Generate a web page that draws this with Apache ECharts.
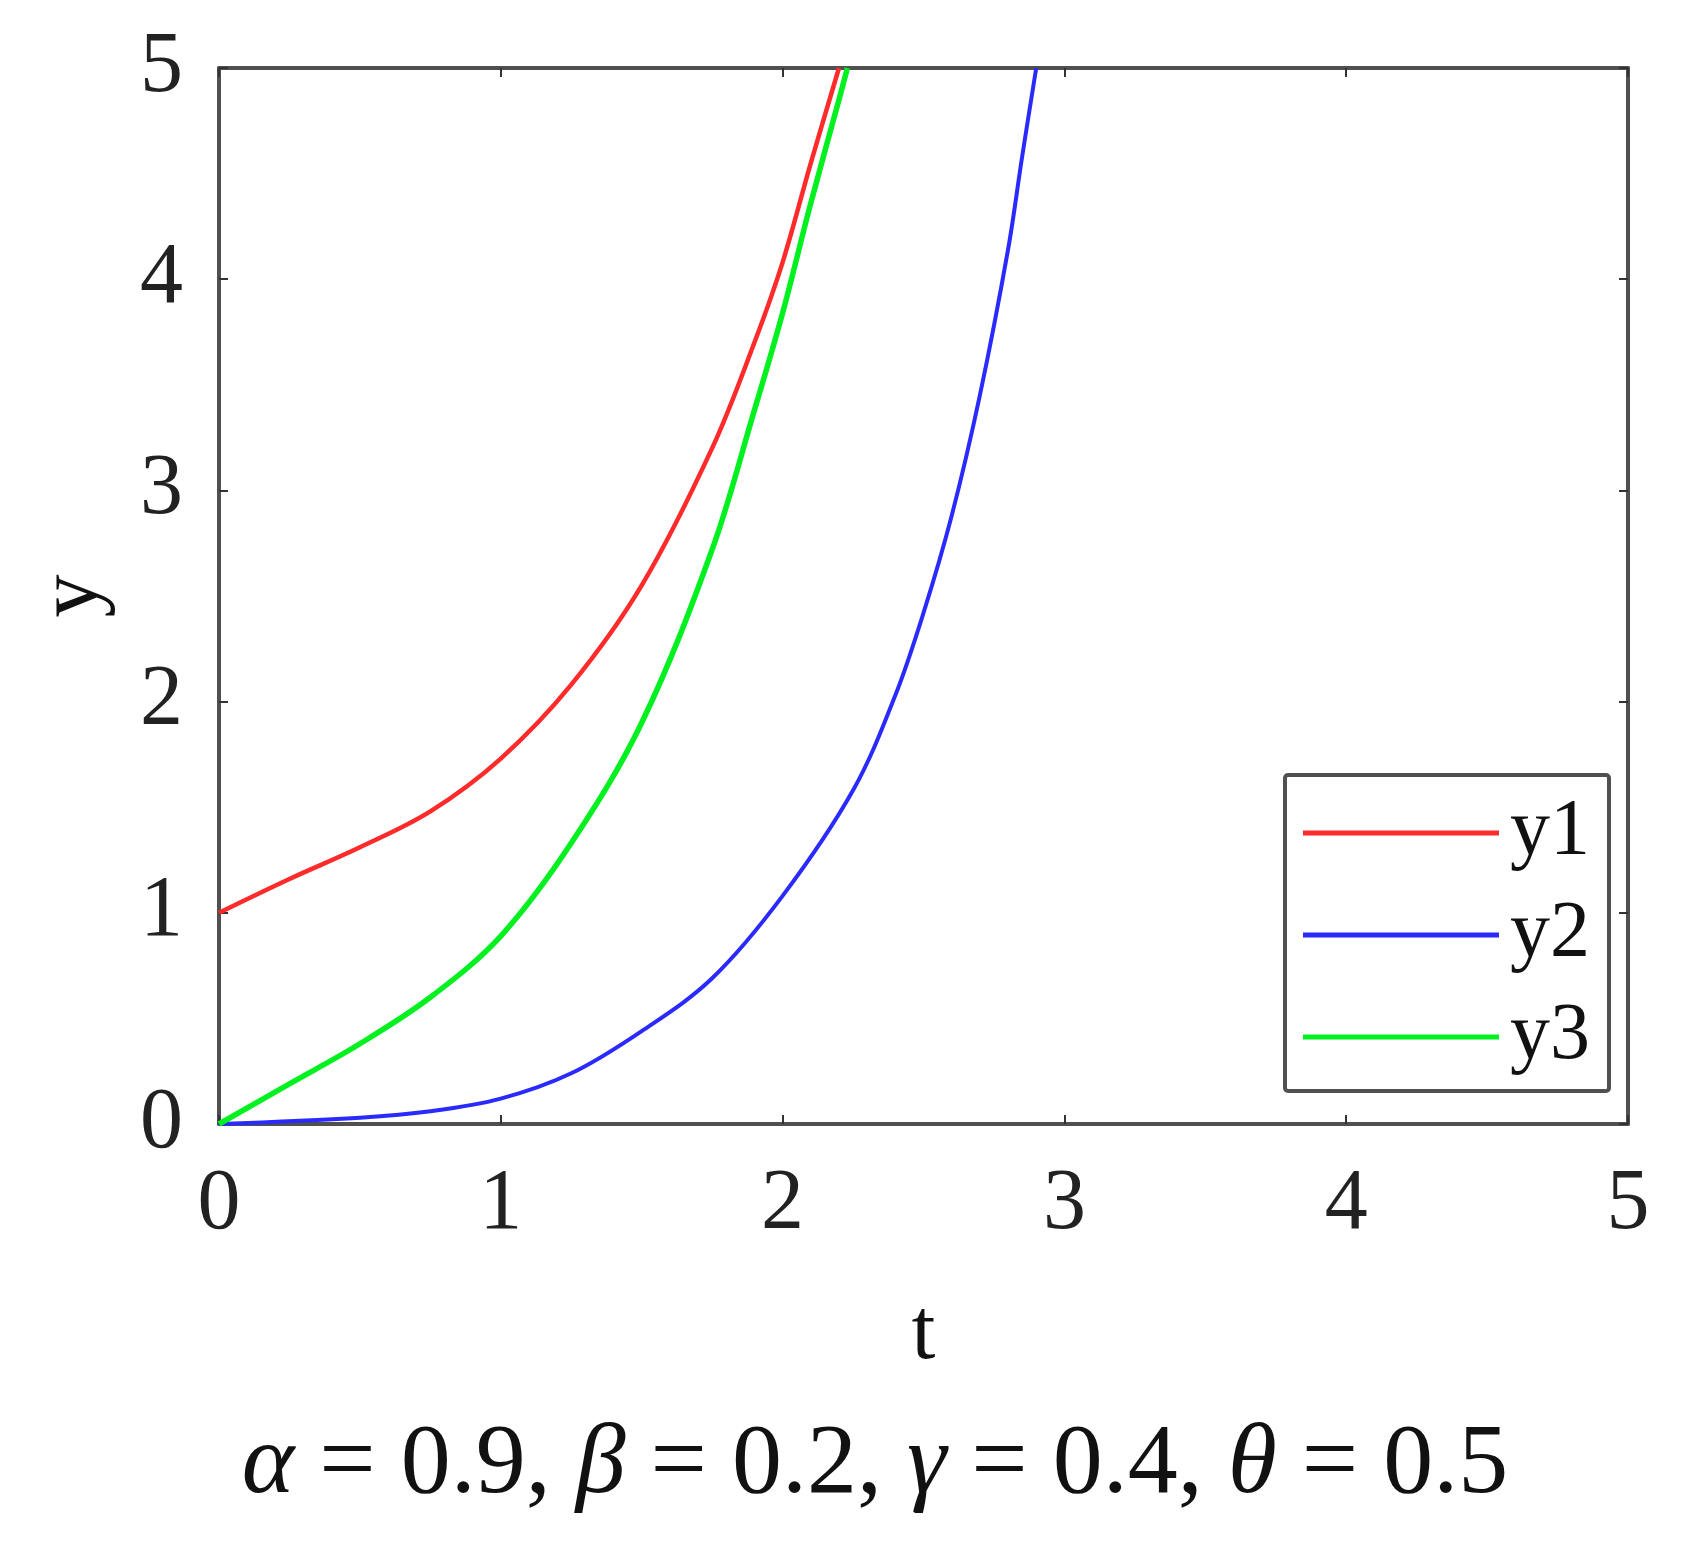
<!DOCTYPE html>
<html>
<head>
<meta charset="utf-8">
<script src="https://cdn.jsdelivr.net/npm/echarts@6/dist/echarts.min.js"></script>
<style>
  html, body { margin: 0; padding: 0; background: #fff; }
  #chart { width: 1684px; height: 1547px; }
</style>
</head>
<body>
<div id="chart"></div>
<script>
// values
var xTicks = [0, 1, 2, 3, 4, 5];
var yTicks = [0, 1, 2, 3, 4, 5];

var t1 = [0, 0.25, 0.5, 0.75, 1.0, 1.25, 1.5, 1.75, 1.9, 2.0, 2.1, 2.2];
var y1 = [1.0, 1.16, 1.31, 1.48, 1.73, 2.08, 2.55, 3.2, 3.7, 4.08, 4.55, 5.0];

var t2 = [0, 0.5, 0.75, 1.0, 1.25, 1.5, 1.75, 2.0, 2.25, 2.4, 2.5, 2.6, 2.7, 2.8, 2.85, 2.9];
var y2 = [0, 0.03, 0.06, 0.12, 0.24, 0.44, 0.69, 1.08, 1.58, 2.03, 2.42, 2.88, 3.45, 4.14, 4.58, 5.0];

var t3 = [0, 0.25, 0.5, 0.75, 1.0, 1.25, 1.5, 1.75, 1.9, 2.0, 2.1, 2.2, 2.23];
var y3 = [0, 0.19, 0.38, 0.6, 0.89, 1.33, 1.9, 2.72, 3.38, 3.84, 4.36, 4.85, 5.0];

var seriesNames = ['y1', 'y2', 'y3'];
var colors = ['#ff2a2a', '#2a2aff', '#00f020'];

function pairs(xs, ys) {
    return xs.map(function (x, i) { return [x, ys[i]]; });
}

var serif = '"Liberation Serif", "Times New Roman", serif';
var lineColor = '#505050';

function axisBase(extra) {
    var base = {
        type: 'value',
        min: 0,
        max: 5,
        interval: 1,
        axisLine: { show: true, onZero: false, lineStyle: { color: lineColor, width: 4 } },
        axisTick: { show: true, inside: true, length: 9, lineStyle: { color: '#333', width: 2 } },
        splitLine: { show: false },
        axisLabel: { show: false }
    };
    return Object.assign(base, extra);
}

var myChart = echarts.init(document.getElementById('chart'));
myChart.setOption({
    backgroundColor: '#fff',
    animation: false,
    grid: { left: 219, right: 56, top: 68, bottom: 423 },
    legend: {
        orient: 'vertical',
        left: 1285,
        top: 775,
        padding: [18, 19, 14, 18],
        itemGap: 22,
        itemWidth: 196,
        itemHeight: 5,
        icon: 'rect',
        backgroundColor: '#fff',
        borderColor: lineColor,
        borderWidth: 4,
        borderRadius: 3,
        textStyle: { fontFamily: serif, fontSize: 80, color: '#111', lineHeight: 80, padding: [0, 0, 0, 6] },
        data: seriesNames
    },
    xAxis: [
        axisBase({
            position: 'bottom',
            name: 't',
            nameLocation: 'middle',
            nameGap: 168,
            nameTextStyle: { fontFamily: serif, fontSize: 86, color: '#111' },
            axisLabel: {
                show: true, margin: 38, fontFamily: serif, fontSize: 86, color: '#222',
                formatter: function (v) { return xTicks.indexOf(v) >= 0 ? String(v) : ''; }
            }
        }),
        axisBase({ position: 'top' })
    ],
    yAxis: [
        axisBase({
            position: 'left',
            name: 'y',
            nameLocation: 'middle',
            nameGap: 103,
            nameRotate: 90,
            nameTextStyle: { fontFamily: serif, fontSize: 86, color: '#111' },
            axisLabel: {
                show: true, margin: 36, fontFamily: serif, fontSize: 86, color: '#222',
                formatter: function (v) { return yTicks.indexOf(v) >= 0 ? String(v) : ''; }
            }
        }),
        axisBase({ position: 'right' })
    ],
    graphic: [{
        type: 'text',
        x: 875,
        y: 1466,
        style: {
            text: '{g|α} = 0.9, {g|β} = 0.2, {g|γ} = 0.4, {g|θ} = 0.5',
            fontFamily: serif,
            fontSize: 100,
            fill: '#111',
            align: 'center',
            verticalAlign: 'middle',
            rich: {
                g: { fontFamily: serif, fontSize: 100, fontStyle: 'italic', fill: '#111' }
            }
        }
    }],
    series: [
        {
            name: seriesNames[0], type: 'line', data: pairs(t1, y1),
            smooth: 0.35, showSymbol: false, clip: true,
            lineStyle: { color: colors[0], width: 4.5 }, itemStyle: { color: colors[0] }
        },
        {
            name: seriesNames[1], type: 'line', data: pairs(t2, y2),
            smooth: 0.35, showSymbol: false, clip: true,
            lineStyle: { color: colors[1], width: 4 }, itemStyle: { color: colors[1] }
        },
        {
            name: seriesNames[2], type: 'line', data: pairs(t3, y3),
            smooth: 0.35, showSymbol: false, clip: true,
            lineStyle: { color: colors[2], width: 5.5 }, itemStyle: { color: colors[2] }
        }
    ]
});
</script>
</body>
</html>
